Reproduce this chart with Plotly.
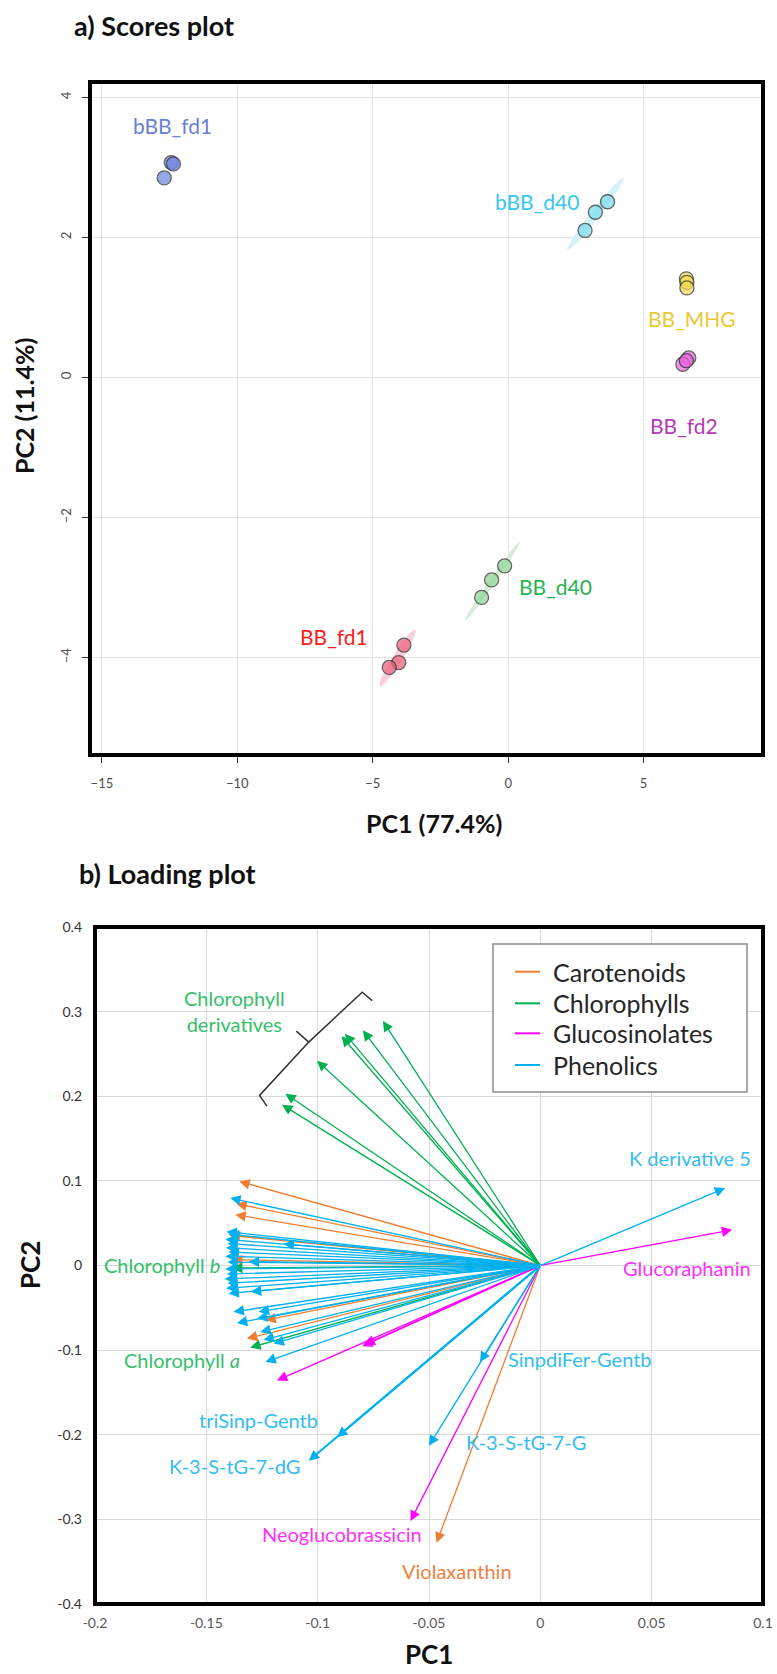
import numpy as np
import plotly.graph_objects as go

W, H = 777, 1674
FONT = "Lato"

# ---------------- Scores data ----------------
score_groups = ["bBB_fd1", "bBB_d40", "BB_MHG", "BB_fd2", "BB_d40", "BB_fd1"]
score_pc1 = [[-12.44, -12.36, -12.70], [3.67, 3.22, 2.84], [6.58, 6.60, 6.60],
             [6.67, 6.45, 6.58], [-0.13, -0.61, -0.98], [-3.85, -4.04, -4.39]]
score_pc2 = [[3.07, 3.05, 2.85], [2.51, 2.36, 2.10], [1.41, 1.36, 1.28],
             [0.28, 0.19, 0.24], [-2.69, -2.89, -3.14], [-3.82, -4.07, -4.14]]
score_fill = ["#6F86E0", "#7DDCEE", "#F3DC50", "#E86ADF", "#8FD69A", "#E8647F"]
score_label_color = ["#6A7FD6", "#35C8EE", "#E9C935", "#B53AB5", "#27B34F", "#FF1A1A"]
score_label_x = [-12.4, 1.07, 6.8, 6.5, 1.76, -6.44]
score_label_y = [3.6, 2.51, 0.84, -0.68, -2.99, -3.70]

# confidence ellipses: end points of major axis + half width (px)
ell_x0 = [2.19, -1.59, -4.74]
ell_y0 = [1.82, -3.47, -4.41]
ell_x1 = [4.26, 0.44, -3.43]
ell_y1 = [2.85, -2.34, -3.60]
ell_hw = [4.5, 3.0, 5.0]
ell_color = ["#D3F2FA", "#D3EDD7", "#F8D0DB"]

score_xticks = [-15, -10, -5, 0, 5]
score_yticks = [-4, -2, 0, 2, 4]

# ---------------- Loading data ----------------
load_groups = ["Carotenoids", "Chlorophylls", "Glucosinolates", "Phenolics"]
load_colors = ["#ED7D31", "#00B050", "#FF00FF", "#00B0F0"]
label_colors = ["#F08040", "#35C06A", "#FF30FF", "#33BDEF"]

carot_pc1 = [-0.1352, -0.1366, -0.1370, -0.1395, -0.1385, -0.1235, -0.1318, -0.0466]
carot_pc2 = [0.0994, 0.0730, 0.0600, 0.0355, 0.0068, -0.0647, -0.0864, -0.3276]

chl_pc1 = [-0.0707, -0.0797, -0.0878, -0.0893, -0.1003, -0.1145, -0.1160, -0.1385, -0.1303]
chl_pc2 = [0.289, 0.278, 0.274, 0.271, 0.242, 0.203, 0.190, -0.003, -0.097]

gls_pc1 = [0.0862, -0.0583, -0.0800, -0.0790, -0.1183]
gls_pc2 = [0.0421, -0.3020, -0.0955, -0.0935, -0.1358]

phe_pc1 = [0.0830, -0.0271, -0.0500, -0.0913, -0.1040, -0.1393,
           -0.1410, -0.1400, -0.1415, -0.1405, -0.1412, -0.1400, -0.1415,
           -0.1405, -0.1415, -0.1408, -0.1418, -0.1405, -0.1412, -0.1400,
           -0.1153, -0.1310, -0.1300,
           -0.1378, -0.1265, -0.1363, -0.1273, -0.1258, -0.1243, -0.1198, -0.1235]
phe_pc2 = [0.0916, -0.114, -0.213, -0.203, -0.2307, 0.0797,
           0.040, 0.037, 0.031, 0.026, 0.021, 0.016, 0.011,
           0.004, -0.004, -0.010, -0.016, -0.021, -0.027, -0.033,
           0.0255, 0.0045, -0.031,
           -0.0548, -0.0548, -0.068, -0.0627, -0.0785, -0.088, -0.0923, -0.114]
phe_width = [1.3, 1.3, 1.3, 2.0, 2.0] + [1.3] * 26

load_pc1 = [carot_pc1, chl_pc1, gls_pc1, phe_pc1]
load_pc2 = [carot_pc2, chl_pc2, gls_pc2, phe_pc2]

# variable labels: text, group index, x, y, xanchor
var_labels = [
    ("K derivative 5", 3, 0.0955, 0.127, "right"),
    ("Glucoraphanin", 2, 0.0955, -0.0033, "right"),
    ("SinpdiFer-Gentb", 3, -0.0155, -0.110, "left"),
    ("K-3-S-tG-7-G", 3, -0.0344, -0.209, "left"),
    ("triSinp-Gentb", 3, -0.1265, -0.183, "center"),
    ("K-3-S-tG-7-dG", 3, -0.1070, -0.2366, "right"),
    ("Neoglucobrassicin", 2, -0.0523, -0.3175, "right"),
    ("Violaxanthin", 0, -0.0373, -0.3612, "center"),
    ("Chlorophyll <i>a</i>", 1, -0.1340, -0.1113, "right"),
    ("Chlorophyll <i>b</i>", 1, -0.1430, 0.0006, "right"),
    ("Chlorophyll<br>derivatives", 1, -0.1373, 0.3007, "center"),
]
# bracket around chlorophyll derivatives (data coords)
bracket_x = [-0.1228, -0.1261, -0.1040, -0.1096, None, -0.1040, -0.0800, -0.0755]
bracket_y = [0.1884, 0.2010, 0.2640, 0.2770, None, 0.2640, 0.3230, 0.3130]

load_xticks = [-0.2, -0.15, -0.1, -0.05, 0, 0.05, 0.1]
load_xtext = ["-0.2", "-0.15", "-0.1", "-0.05", "0", "0.05", "0.1"]
load_yticks = [-0.4, -0.3, -0.2, -0.1, 0, 0.1, 0.2, 0.3, 0.4]
load_ytext = ["-0.4", "-0.3", "-0.2", "-0.1", "0", "0.1", "0.2", "0.3", "0.4"]

# ---------------- Layout geometry ----------------
def px_x(p):
    return p / W

def px_y(p):
    return 1 - p / H

s_dom_x = [px_x(90), px_x(763)]
s_dom_y = [px_y(755), px_y(82)]
s_rx = [-15.44, 9.41]
s_ry = [-5.39, 4.22]
l_dom_x = [px_x(95), px_x(763)]
l_dom_y = [px_y(1604), px_y(927)]
l_rx = [-0.2, 0.1]
l_ry = [-0.4, 0.4]

fig = go.Figure()

# ellipses
sx = (763 - 90) / (s_rx[1] - s_rx[0])
sy = (755 - 82) / (s_ry[1] - s_ry[0])
t = np.linspace(0, 2 * np.pi, 80)
for x0, y0, x1, y1, hw, c in zip(ell_x0, ell_y0, ell_x1, ell_y1, ell_hw, ell_color):
    cx, cy = (x0 + x1) / 2, (y0 + y1) / 2
    ax_, ay_ = (x1 - x0) / 2, (y1 - y0) / 2
    dpx, dpy = ax_ * sx, ay_ * sy
    n = np.hypot(dpx, dpy)
    bx, by = (-dpy / n * hw) / sx, (dpx / n * hw) / sy
    ex = cx + np.cos(t) * ax_ + np.sin(t) * bx
    ey = cy + np.cos(t) * ay_ + np.sin(t) * by
    fig.add_trace(go.Scatter(x=ex, y=ey, fill="toself", fillcolor=c, mode="lines",
                             line=dict(width=0, color=c), hoverinfo="skip",
                             showlegend=False, xaxis="x", yaxis="y"))

# score points
for g, xs, ys, c in zip(score_groups, score_pc1, score_pc2, score_fill):
    fig.add_trace(go.Scatter(x=xs, y=ys, mode="markers", name=g, showlegend=False,
                             marker=dict(size=14, color=c, opacity=0.72,
                                         line=dict(color="#2B2B2B", width=1.3)),
                             xaxis="x", yaxis="y"))

annotations = []
for g, x, y, c in zip(score_groups, score_label_x, score_label_y, score_label_color):
    annotations.append(dict(x=x, y=y, xref="x", yref="y", text=g, showarrow=False,
                            xanchor="center", yanchor="middle",
                            font=dict(family=FONT, size=21, color=c)))

# loading arrows
for gi, (xs, ys) in enumerate(zip(load_pc1, load_pc2)):
    for k, (x, y) in enumerate(zip(xs, ys)):
        w = phe_width[k] if gi == 3 else 1.3
        annotations.append(dict(x=x, y=y, ax=0, ay=0, xref="x2", yref="y2",
                                axref="x2", ayref="y2", text="", showarrow=True,
                                arrowhead=2, arrowsize=1.6 * 1.3 / w, arrowwidth=w,
                                arrowcolor=load_colors[gi], standoff=0,
                                startstandoff=0, borderpad=0, font=dict(size=1)))

for txt, gi, x, y, xa in var_labels:
    annotations.append(dict(x=x, y=y, xref="x2", yref="y2", text=txt, showarrow=False,
                            xanchor=xa, yanchor="middle",
                            font=dict(family=FONT, size=20, color=label_colors[gi])))

fig.add_trace(go.Scatter(x=bracket_x, y=bracket_y, mode="lines", showlegend=False,
                         line=dict(color="#333333", width=1.5), hoverinfo="skip",
                         xaxis="x2", yaxis="y2"))

# custom legend (box, line keys, labels)
leg_box = (493, 944, 747, 1092)
leg_y = [971.7, 1003.3, 1033.3, 1065.0]
shapes = [
    dict(type="rect", xref="paper", yref="paper", x0=px_x(leg_box[0]), x1=px_x(leg_box[2]),
         y0=px_y(leg_box[3]), y1=px_y(leg_box[1]), fillcolor="white",
         line=dict(color="#8C8C8C", width=1.5), layer="above"),
]
for g, c, yy in zip(load_groups, load_colors, leg_y):
    shapes.append(dict(type="line", xref="paper", yref="paper", x0=px_x(515), x1=px_x(540),
                       y0=px_y(yy), y1=px_y(yy), line=dict(color=c, width=2), layer="above"))
    annotations.append(dict(x=px_x(551), y=px_y(yy), xref="paper", yref="paper", text=g,
                            showarrow=False, xanchor="left", yanchor="middle",
                            font=dict(family=FONT, size=25, color="#262626")))

# titles
annotations += [
    dict(x=px_x(72), y=px_y(25), xref="paper", yref="paper", text="<b>a) Scores plot</b>",
         showarrow=False, xanchor="left", yanchor="middle",
         font=dict(family=FONT, size=27, color="#111")),
    dict(x=px_x(77), y=px_y(873), xref="paper", yref="paper", text="<b>b) Loading plot</b>",
         showarrow=False, xanchor="left", yanchor="middle",
         font=dict(family=FONT, size=27, color="#111")),
    dict(x=px_x(434), y=px_y(823), xref="paper", yref="paper", text="<b>PC1 (77.4%)</b>",
         showarrow=False, xanchor="center", yanchor="middle",
         font=dict(family=FONT, size=25, color="#111")),
    dict(x=px_x(24), y=px_y(406), xref="paper", yref="paper", text="<b>PC2 (11.4%)</b>",
         showarrow=False, textangle=-90, xanchor="center", yanchor="middle",
         font=dict(family=FONT, size=25, color="#111")),
    dict(x=px_x(429), y=px_y(1654), xref="paper", yref="paper", text="<b>PC1</b>",
         showarrow=False, xanchor="center", yanchor="middle",
         font=dict(family=FONT, size=26, color="#111")),
    dict(x=px_x(30), y=px_y(1265), xref="paper", yref="paper", text="<b>PC2</b>",
         showarrow=False, textangle=-90, xanchor="center", yanchor="middle",
         font=dict(family=FONT, size=26, color="#111")),
]

shapes += [
    dict(type="rect", xref="x domain", yref="y domain", x0=0, x1=1, y0=0, y1=1,
         line=dict(color="black", width=4), layer="above"),
    dict(type="rect", xref="x2 domain", yref="y2 domain", x0=0, x1=1, y0=0, y1=1,
         line=dict(color="black", width=4), layer="above"),
]

fig.update_layout(
    width=W, height=H, margin=dict(l=0, r=0, t=0, b=0, autoexpand=False),
    paper_bgcolor="white", plot_bgcolor="white",
    font=dict(family=FONT, color="#333"),
    showlegend=False,
    xaxis=dict(domain=s_dom_x, range=s_rx, tickvals=score_xticks, showgrid=True,
               gridcolor="#E2E2E2", gridwidth=1, zeroline=False, ticks="outside",
               ticklen=7, tickcolor="#333", tickfont=dict(size=13, color="#4D4D4D"),
               anchor="y", showline=False, automargin=False, ticklabelstandoff=9),
    yaxis=dict(domain=s_dom_y, range=s_ry, tickvals=score_yticks, showgrid=True,
               gridcolor="#E2E2E2", gridwidth=1, zeroline=False, ticks="outside",
               ticklen=7, tickcolor="#333", tickangle=-90,
               tickfont=dict(size=13, color="#4D4D4D"), anchor="x", showline=False,
               automargin=False, ticklabelstandoff=6),
    xaxis2=dict(domain=l_dom_x, range=l_rx, tickvals=load_xticks, ticktext=load_xtext,
                showgrid=True, gridcolor="#D9D9D9", gridwidth=1, zeroline=False,
                ticks="", ticklen=0, tickfont=dict(size=14, color="#595959"), anchor="y2",
                ticklabelstandoff=9, showline=False, automargin=False),
    yaxis2=dict(domain=l_dom_y, range=l_ry, tickvals=load_yticks, ticktext=load_ytext,
                showgrid=True, gridcolor="#D9D9D9", gridwidth=1, zeroline=False,
                ticks="", tickfont=dict(size=14, color="#333"), anchor="x2",
                ticklabelstandoff=12, showline=False, automargin=False),
    annotations=annotations, shapes=shapes,
)

fig.write_html("out.html", config={"displayModeBar": False},
               post_script="document.body.style.margin='0px';")
